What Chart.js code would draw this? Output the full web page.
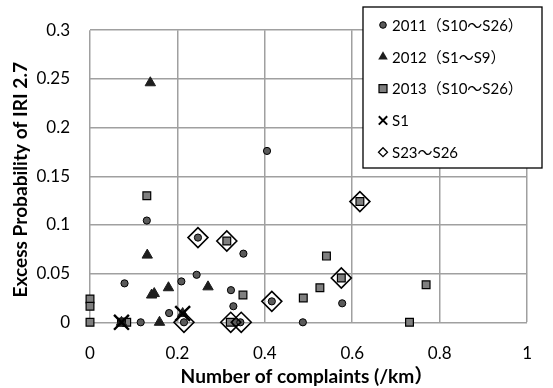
<!DOCTYPE html>
<html>
<head>
<meta charset="utf-8">
<script src="https://cdn.jsdelivr.net/npm/chart.js@4/dist/chart.umd.min.js"></script>
<style>
  html, body { margin: 0; padding: 0; background: #fff; }
  #wrap { width: 553px; height: 388px; position: relative; }
</style>
</head>
<body>
<div id="wrap"><canvas id="chart"></canvas></div>
<script>
// values
const xTickLabels = ["0", "0.2", "0.4", "0.6", "0.8", "1"];
const yTickLabels = ["0", "0.05", "0.1", "0.15", "0.2", "0.25", "0.3"];

const x2011 = [0.405, 0.130, 0.079, 0.247, 0.351, 0.244, 0.209, 0.3225, 0.328, 0.181, 0.116, 0.215, 0.334, 0.344, 0.416, 0.487, 0.577];
const y2011 = [0.176, 0.1045, 0.040, 0.087, 0.0705, 0.0488, 0.042, 0.033, 0.0165, 0.0095, 0, 0, 0, 0, 0.0215, 0, 0.0195];

const x2012 = [0.138, 0.131, 0.141, 0.147, 0.1795, 0.270, 0.159, 0.072, 0.212];
const y2012 = [0.246, 0.069, 0.028, 0.0295, 0.0355, 0.0364, 0, 0, 0.009];

const x2013 = [0.130, 0.313, 0.541, 0.575, 0.526, 0.488, 0.350, 0, 0, 0, 0.084, 0.321, 0.6175, 0.769, 0.731, 0.072];
const y2013 = [0.130, 0.0835, 0.068, 0.0455, 0.0355, 0.025, 0.028, 0.024, 0.0165, 0, 0, 0, 0.124, 0.0385, 0, 0];

const xS1 = [0.072, 0.212];
const yS1 = [0, 0.009];

const xS23 = [0.247, 0.313, 0.416, 0.575, 0.6175, 0.215, 0.322, 0.346];
const yS23 = [0.087, 0.0835, 0.0215, 0.0455, 0.124, 0, 0, 0];

const seriesNames = ["2011（S10～S26）", "2012（S1～S9）", "2013（S10～S26）", "S1", "S23～S26"];
const xTitle = "Number of complaints (/km）";
const yTitle = "Excess Probability of IRI 2.7";

const pts = (xs, ys) => xs.map((x, i) => ({ x, y: ys[i] }));

const FONT = "Lato, 'Noto Sans CJK JP', sans-serif";

function drawMarker(ctx, kind, x, y, s) {
  ctx.save();
  ctx.beginPath();
  if (kind === "circle") {
    ctx.arc(x, y, s, 0, Math.PI * 2);
    ctx.fillStyle = "#5a5a5a"; ctx.fill();
    ctx.lineWidth = 1; ctx.strokeStyle = "#000"; ctx.stroke();
  } else if (kind === "triangle") {
    ctx.moveTo(x, y - s);
    ctx.lineTo(x + s * 0.87, y + s * 0.5);
    ctx.lineTo(x - s * 0.87, y + s * 0.5);
    ctx.closePath();
    ctx.fillStyle = "#1e1e1e"; ctx.fill();
  } else if (kind === "rect") {
    ctx.rect(x - s, y - s, 2 * s, 2 * s);
    ctx.fillStyle = "#7f7f7f"; ctx.fill();
    ctx.lineWidth = 1.2; ctx.strokeStyle = "#000"; ctx.stroke();
  } else if (kind === "cross") {
    ctx.moveTo(x - s, y - s); ctx.lineTo(x + s, y + s);
    ctx.moveTo(x + s, y - s); ctx.lineTo(x - s, y + s);
    ctx.lineWidth = 2; ctx.strokeStyle = "#000"; ctx.stroke();
  } else {
    ctx.moveTo(x - s, y); ctx.lineTo(x, y - s); ctx.lineTo(x + s, y); ctx.lineTo(x, y + s);
    ctx.closePath();
    ctx.fillStyle = "#fff"; ctx.fill();
    ctx.lineWidth = 1.3; ctx.strokeStyle = "#000"; ctx.stroke();
  }
  ctx.restore();
}

const boxLegend = {
  id: "boxLegend",
  afterDraw(chart) {
    const ctx = chart.ctx;
    ctx.save();
    ctx.fillStyle = "#fff";
    ctx.fillRect(363, 7, 179, 161);
    ctx.lineWidth = 1.3;
    ctx.strokeStyle = "#000";
    ctx.strokeRect(363, 7, 179, 161);
    const kinds = ["circle", "triangle", "rect", "cross", "diamond"];
    const sizes = [3.3, 5.5, 4, 4.2, 4.5];
    ctx.font = "15px " + FONT;
    ctx.textBaseline = "middle";
    seriesNames.forEach((name, i) => {
      const yy = 25 + i * 31.8;
      drawMarker(ctx, kinds[i], 383, yy, sizes[i]);
      ctx.fillStyle = "#000";
      ctx.fillText(name, 392, yy + 1);
    });
    ctx.restore();
  }
};

const axisTitles = {
  id: "axisTitles",
  afterDraw(chart) {
    const ctx = chart.ctx;
    ctx.save();
    ctx.fillStyle = "#000";
    ctx.textAlign = "center";
    ctx.textBaseline = "middle";
    // x title sized to the width it takes in the picture
    ctx.font = "bold 20px " + FONT;
    const size = 20 * 253 / ctx.measureText(xTitle).width;
    ctx.font = "bold " + size.toFixed(2) + "px " + FONT;
    ctx.fillText(xTitle, 307, 377);
    const w = ctx.measureText(yTitle).width;
    ctx.translate(21, 62 + w / 2);
    ctx.rotate(-Math.PI / 2);
    ctx.fillText(yTitle, 0, 0);
    ctx.restore();
  }
};

new Chart(document.getElementById("chart"), {
  type: "scatter",
  data: {
    datasets: [
      {
        label: seriesNames[4],
        data: pts(xS23, yS23),
        pointStyle: "rectRot",
        pointRadius: 10,
        backgroundColor: "rgba(255,255,255,0)",
        borderColor: "#000",
        borderWidth: 1.6,
        clip: false,
        order: 1,
      },
      {
        label: seriesNames[3],
        data: pts(xS1, yS1),
        pointStyle: "crossRot",
        pointRadius: 10.5,
        borderColor: "#000",
        borderWidth: 2.4,
        clip: false,
        order: 0,
      },
      {
        label: seriesNames[2],
        data: pts(x2013, y2013),
        pointStyle: "rect",
        pointRadius: 5.5,
        backgroundColor: "#7f7f7f",
        borderColor: "#000",
        borderWidth: 1.2,
        clip: false,
        order: 4,
      },
      {
        label: seriesNames[1],
        data: pts(x2012, y2012),
        pointStyle: "triangle",
        pointRadius: 6,
        backgroundColor: "#1e1e1e",
        borderColor: "#1e1e1e",
        borderWidth: 1,
        clip: false,
        order: 3,
      },
      {
        label: seriesNames[0],
        data: pts(x2011, y2011),
        pointStyle: "circle",
        pointRadius: 3.6,
        backgroundColor: "#5a5a5a",
        borderColor: "#000",
        borderWidth: 1,
        clip: false,
        order: 2,
      },
    ],
  },
  options: {
    responsive: true,
    maintainAspectRatio: false,
    animation: false,
    layout: { padding: { top: 21, right: 15.5, left: 0, bottom: 0 } },
    plugins: {
      legend: { display: false },
      tooltip: { enabled: false },
    },
    scales: {
      x: {
        type: "linear",
        min: 0,
        max: 1,
        afterFit: (s) => { s.height = 65.7; },
        ticks: {
          stepSize: 0.2,
          padding: 21,
          color: "#000",
          font: { family: FONT, size: 17 },
          maxRotation: 0,
          callback: (v, i) => xTickLabels[i],
        },
        grid: { color: "#a0a0a0", lineWidth: 1.5, drawTicks: false },
        border: { display: false },
      },
      y: {
        type: "linear",
        min: 0,
        max: 0.3,
        afterFit: (s) => { s.width = 90; },
        ticks: {
          stepSize: 0.05,
          padding: 20,
          color: "#000",
          font: { family: FONT, size: 17 },
          callback: (v, i) => yTickLabels[i],
        },
        grid: { color: "#a0a0a0", lineWidth: 1.5, drawTicks: false },
        border: { display: false },
      },
    },
  },
  plugins: [axisTitles, boxLegend],
});
</script>
</body>
</html>
